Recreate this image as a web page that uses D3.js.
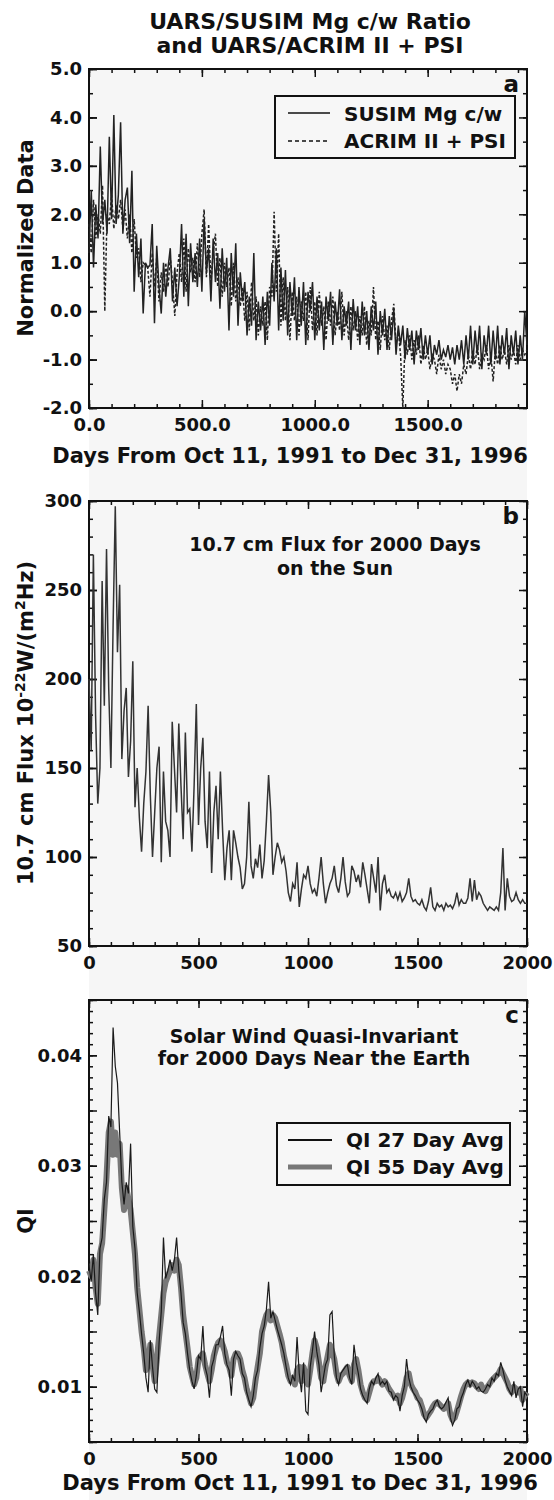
<!DOCTYPE html>
<html>
<head>
<meta charset="utf-8">
<script src="https://cdn.jsdelivr.net/npm/d3@7"></script>
<style>
body { margin: 0; background: #fff; }
text { font-family: "DejaVu Sans", sans-serif; font-weight: bold; fill: #111; }
.tick text { font-size: 18px; }
.tick line { stroke: #111; stroke-width: 1.5; }
</style>
</head>
<body>
<svg width="554" height="1500"></svg>
<script>
var svg = d3.select("svg");

// values, one sample every 10 days
var stepDays = 10;

var susimMg = [
	1.2, 2.5, 0.9, 2.2, 1.5, 3.4, 1.8, 2.3, 1.6, 3.6,
	1.9, 4.05, 1.8, 2.4, 3.9, 1.6, 2.3, 2.55, 1.4, 2.9,
	0.4, 1.6, 0.7, 1.5, -0.05, 1.0, 0.9, 0.95, 1.8, -0.25,
	1.35, 0.5, -0.05, 1.0, 0.3, 0.9, 1.3, 0.2, 0.9, 0.1,
	0.7, 1.8, 0.3, 1.6, 0.1, 1.4, 0.6, 1.2, 0.5, 1.5,
	0.4, 1.9, 0.8, 1.3, 0.2, 1.5, 0.6, 1.2, 0.05, 1.3,
	0.4, 1.1, -0.4, 1.2, 0.3, 1.4, -0.3, 0.8, 0.2, 0.6,
	-0.5, 0.3, -0.3, 1.2, -0.6, 0.2, -0.4, 0.3, -0.7, 0.4,
	-0.3, 1.0, 0.2, 1.3, -0.4, 0.9, -0.2, 0.85, -0.5, 0.6,
	-0.1, 0.7, -0.6, 0.5, -0.3, 0.6, -0.7, 0.4, 0.0, 0.6,
	-0.6, 0.3, -0.4, 0.2, -0.8, 0.3, -0.2, 0.4, -0.7, 0.2,
	-0.3, 0.45, -0.6, 0.1, -0.3, 0.2, -0.8, 0.25, -0.4, 0.1,
	-0.7, 0.2, -0.5, 0.0, -0.8, 0.1, -0.4, 0.2, -0.9, 0.0,
	-0.5, 0.05, -0.8, -0.1, -0.6, 0.05, -0.9, -0.3, -0.7, -0.3,
	-1.0, -0.35, -0.8, -0.4, -1.1, -0.4, -0.8, -0.35, -1.0, -0.5,
	-0.9, -0.5, -1.1, -0.7, -0.9, -0.6, -1.0, -0.8, -0.95, -0.7,
	-1.0, -0.75, -1.1, -0.7, -1.0, -0.6, -1.1, -0.5, -1.0, -0.3,
	-1.1, -0.4, -0.9, -0.3, -1.2, -0.5, -0.9, -0.3, -1.1, -0.4,
	-1.0, -0.3, -1.1, -0.5, -0.9, -0.35, -1.2, -0.5, -0.9, -0.4,
	-1.1, -0.5, -1.0, 0.0, -0.7
];

var acrimPsi = [
	1.8, 1.2, 2.3, 1.5, 2.0, 1.6, 2.6, 0.0, 2.0, 1.8,
	2.4, 1.7, 2.2, 1.9, 2.3, 1.7, 2.1, 1.5, 2.0, 1.2,
	1.9, 1.1, 1.3, 0.6, 1.0, 0.95, 0.9, 0.3, 1.2, 0.5,
	1.1, 0.2, 0.8, 0.4, 1.0, 0.5, 1.1, 0.6, -0.1, 0.8,
	1.2, 0.6, 1.5, 0.4, 1.3, 0.8, 1.1, 0.6, 1.4, 0.7,
	1.6, 2.1, 0.7, 1.8, 0.6, 1.2, 1.6, 0.5, 1.1, 0.3,
	1.0, 0.5, 0.9, 0.1, 1.0, 0.2, 0.7, 0.1, 0.5, -0.2,
	0.4, -0.4, 0.6, -0.2, 0.3, -0.5, 0.1, -0.3, 0.2, -0.6,
	0.5, 0.3, 2.05, 0.4, 1.6, -0.3, 0.7, -0.2, 0.5, -0.6,
	0.4, -0.2, 0.3, -0.5, 0.2, -0.2, 0.4, -0.6, 0.5, -0.4,
	0.2, -0.5, 0.4, -0.3, 0.1, -0.6, 0.2, -0.3, 0.3, -0.5,
	0.0, -0.4, 0.4, -0.5, 0.0, -0.6, 0.1, -0.4, 0.0, -0.6,
	-0.1, -0.5, 0.1, -0.7, -0.2, -0.5, 0.5, -0.6, -0.2, -0.8,
	-0.1, -0.6, -0.3, -0.8, -0.2, 0.15, -0.7, -0.4, -0.9, -2.0,
	-0.6, -0.9, -0.5, -1.0, -0.6, -0.9, -0.5, -1.1, -0.7, -1.0,
	-0.8, -1.2, -0.9, -1.0, -1.3, -0.9, -1.2, -1.0, -1.3, -1.1,
	-1.2, -1.5, -1.3, -1.65, -1.3, -1.5, -1.1, -1.3, -0.9, -1.2,
	-0.8, -1.1, -0.7, -1.2, -0.9, -1.0, -0.7, -1.2, -0.9, -1.45,
	-0.8, -1.1, -0.7, -1.0, -0.8, -1.1, -0.7, -1.0, -0.8, -1.1,
	-0.7, -1.0, -0.8, -0.9, -0.8
];

var flux107 = [
	200, 160, 270, 180, 130, 150, 255, 185, 273, 195,
	150, 230, 297, 215, 253, 155, 182, 195, 145, 165,
	210, 128, 150, 122, 103, 130, 148, 185, 135, 100,
	125, 150, 162, 97, 148, 120, 115, 100, 176, 150,
	125, 175, 140, 110, 170, 125, 127, 103, 140, 186,
	118, 150, 167, 120, 105, 148, 91, 125, 140, 110,
	148, 115, 87, 105, 115, 87, 115, 108, 100, 94,
	82, 85, 100, 131, 95, 88, 99, 94, 107, 88,
	98, 120, 146, 125, 90, 100, 108, 104, 97, 100,
	92, 80, 75, 85, 82, 97, 72, 82, 90, 88,
	95, 85, 80, 82, 78, 88, 100, 85, 74, 80,
	85, 88, 95, 84, 80, 88, 100, 86, 78, 80,
	95, 92, 86, 90, 83, 97, 90, 82, 74, 96,
	88, 80, 100, 70, 85, 90, 80, 82, 78, 77,
	80, 76, 80, 75, 77, 80, 88, 78, 75, 76,
	74, 73, 76, 72, 70, 75, 83, 72, 70, 74,
	72, 73, 70, 74, 72, 73, 71, 74, 80, 73,
	76, 74, 74, 77, 88, 75, 87, 76, 80, 78,
	74, 72, 70, 72, 71, 70, 72, 70, 80, 105,
	70, 88, 78, 75, 76, 80, 76, 74, 76, 74,
	74
];

var qi55 = [
	0.0205, 0.020, 0.0215, 0.019, 0.0175, 0.022, 0.023, 0.026, 0.029, 0.033,
	0.034, 0.031, 0.033, 0.031, 0.032, 0.028, 0.026, 0.028, 0.027, 0.026,
	0.024, 0.022, 0.019, 0.017, 0.015, 0.0135, 0.0115, 0.012, 0.0138, 0.012,
	0.0105, 0.0125, 0.0145, 0.0165, 0.0185, 0.0195, 0.020, 0.0205, 0.021, 0.0205,
	0.0215, 0.021, 0.019, 0.0165, 0.015, 0.0135, 0.0118, 0.011, 0.0102, 0.0108,
	0.0125, 0.0128, 0.013, 0.012, 0.0112, 0.0105, 0.0115, 0.0128, 0.0135, 0.014,
	0.0142, 0.0138, 0.0132, 0.0122, 0.0118, 0.011, 0.0125, 0.013, 0.013, 0.0125,
	0.0115, 0.0108, 0.0098, 0.0092, 0.0085, 0.009, 0.0105, 0.0118, 0.013, 0.015,
	0.0158, 0.0165, 0.0168, 0.016, 0.0165, 0.0162, 0.0155, 0.0148, 0.014, 0.0128,
	0.012, 0.011, 0.0105, 0.0108, 0.0102, 0.0115, 0.0118, 0.0105, 0.0118, 0.011,
	0.0102, 0.0115, 0.013, 0.0142, 0.0135, 0.0122, 0.0108, 0.0105, 0.0118, 0.0128,
	0.0138, 0.0132, 0.0125, 0.0112, 0.0105, 0.011, 0.0112, 0.0115, 0.0118, 0.011,
	0.0105, 0.012, 0.0125, 0.0115, 0.0102, 0.0095, 0.009, 0.0088, 0.0095, 0.0102,
	0.0105, 0.0105, 0.0108, 0.0105, 0.0102, 0.0105, 0.0102, 0.0098, 0.0095, 0.0092,
	0.009, 0.0092, 0.0085, 0.009, 0.0098, 0.0108, 0.0112, 0.0102, 0.0098, 0.0095,
	0.009, 0.0088, 0.0082, 0.0075, 0.0072, 0.0075, 0.0078, 0.0082, 0.0085, 0.0086,
	0.0084, 0.0082, 0.008, 0.0082, 0.0085, 0.0075, 0.007, 0.0072, 0.0078, 0.0085,
	0.0092, 0.0098, 0.0102, 0.0104, 0.0102, 0.0104, 0.0103, 0.010, 0.0098, 0.0102,
	0.0098, 0.0096, 0.010, 0.0103, 0.0106, 0.0108, 0.011, 0.0112, 0.0116, 0.0112,
	0.0108, 0.0104, 0.0098, 0.0095, 0.010, 0.0098, 0.0095, 0.0098, 0.0088, 0.0092,
	0.0095
];

var qi27 = [
	0.021, 0.0195, 0.022, 0.0185, 0.0165, 0.0225, 0.0235, 0.027, 0.0285, 0.0345,
	0.0335, 0.0425, 0.039, 0.0375, 0.033, 0.0285, 0.0265, 0.0285, 0.0275, 0.032,
	0.0245, 0.0225, 0.0185, 0.0168, 0.0148, 0.013, 0.0108, 0.0095, 0.0142, 0.0118,
	0.0098, 0.0095, 0.014, 0.0168, 0.0235, 0.0198, 0.0205, 0.0215, 0.0205, 0.0215,
	0.0235, 0.0205, 0.0185, 0.0158, 0.0148, 0.013, 0.0115, 0.0105, 0.0098, 0.011,
	0.0128, 0.0125, 0.0155, 0.0118, 0.011, 0.009, 0.0118, 0.0125, 0.0138, 0.0138,
	0.0145, 0.0155, 0.013, 0.012, 0.0115, 0.0092, 0.0125, 0.0132, 0.0128, 0.0125,
	0.0112, 0.0108, 0.0095, 0.0088, 0.0082, 0.0092, 0.0108, 0.0115, 0.0135, 0.0148,
	0.0155, 0.017, 0.0195, 0.0162, 0.0168, 0.016, 0.0152, 0.0145, 0.0138, 0.013,
	0.0118, 0.0108, 0.0102, 0.011, 0.0105, 0.0145, 0.0112, 0.0095, 0.0122, 0.0078,
	0.0075, 0.0118, 0.0132, 0.015, 0.0132, 0.012, 0.0095, 0.0108, 0.012, 0.0125,
	0.0165, 0.0168, 0.0128, 0.0108, 0.0102, 0.0112, 0.0115, 0.0118, 0.012, 0.0108,
	0.0102, 0.0138, 0.0122, 0.0112, 0.0098, 0.0092, 0.0088, 0.0085, 0.0098, 0.0105,
	0.0102, 0.0108, 0.0112, 0.0102, 0.0105, 0.0102, 0.0105, 0.0096, 0.0095, 0.0088,
	0.0092, 0.009, 0.0078, 0.0092, 0.010, 0.0125, 0.0108, 0.010, 0.0095, 0.0092,
	0.0088, 0.0085, 0.008, 0.0072, 0.0068, 0.0075, 0.0078, 0.008, 0.0085, 0.0088,
	0.0082, 0.008, 0.0082, 0.0086, 0.009, 0.0072, 0.0065, 0.007, 0.008, 0.0082,
	0.009, 0.0095, 0.0102, 0.0106, 0.010, 0.0105, 0.0102, 0.0098, 0.010, 0.0096,
	0.0095, 0.0098, 0.0102, 0.010, 0.0108, 0.0105, 0.0112, 0.011, 0.0122, 0.0115,
	0.0106, 0.010, 0.0096, 0.0092, 0.0105, 0.009, 0.0098, 0.010, 0.0082, 0.0095,
	0.0092
];

// tick labels
var aXTicks = [0, 500, 1000, 1500];
var aYTicks = [-2, -1, 0, 1, 2, 3, 4, 5];
var bXTicks = [0, 500, 1000, 1500, 2000];
var bYTicks = [50, 100, 150, 200, 250, 300];
var cXTicks = [0, 500, 1000, 1500, 2000];
var cYTicks = [0.01, 0.02, 0.03, 0.04];

var left = 89, right = 527;

//scanned page tint behind the plots
svg.append("rect")
	.attr("x", left).attr("y", 69)
	.attr("width", right - left).attr("height", 1431)
	.attr("fill", "#f6f6f6");

function panel(p) {
	var x = d3.scaleLinear().domain(p.xDomain).range([left, right]);
	var y = d3.scaleLinear().domain(p.yDomain).range([p.bottom, p.top]);
	var g = svg.append("g");

	function ticks(gen, tr, vals, size, fmt, pad) {
		g.append("g").attr("transform", tr)
			.call(gen.tickValues(vals).tickSize(size).tickPadding(pad || 7).tickFormat(fmt || ""))
			.call(function(s) { s.select(".domain").remove(); });
	}

	//minor ticks, all four sides
	ticks(d3.axisBottom(x), "translate(0," + p.bottom + ")", p.xMinor, -4);
	ticks(d3.axisTop(x), "translate(0," + p.top + ")", p.xMinor, -4);
	ticks(d3.axisLeft(y), "translate(" + left + ",0)", p.yMinor, -4);
	ticks(d3.axisRight(y), "translate(" + right + ",0)", p.yMinor, -4);
	//major ticks
	ticks(d3.axisTop(x), "translate(0," + p.top + ")", p.xMajor, -8);
	ticks(d3.axisRight(y), "translate(" + right + ",0)", p.yMid, -8);
	ticks(d3.axisLeft(y), "translate(" + left + ",0)", p.yMid, -8);
	ticks(d3.axisBottom(x), "translate(0," + p.bottom + ")", p.xMajor, -8, p.xFmt, 10);
	ticks(d3.axisLeft(y), "translate(" + left + ",0)", p.yTicks, -8, p.yFmt, 7);

	g.append("rect")
		.attr("x", left).attr("y", p.top)
		.attr("width", right - left).attr("height", p.bottom - p.top)
		.attr("fill", "none").attr("stroke", "#111").attr("stroke-width", 2);

	g.append("text")
		.attr("x", 519).attr("y", p.top + 23)
		.attr("text-anchor", "end")
		.style("font-size", "23px")
		.text(p.letter);

	var line = function(vals) {
		return d3.line()
			.x(function(d, i) { return x(i * stepDays); })
			.y(function(d) { return y(d); })(vals);
	};
	return { x: x, y: y, g: g, line: line };
}

var fixed = function(n) { return function(d) { return d.toFixed(n); }; };

// ---- panel a ----
var pa = panel({
	top: 69, bottom: 408, xDomain: [0, 1940], yDomain: [-2, 5], letter: "a",
	xMajor: aXTicks, xMinor: d3.range(0, 1941, 100), xFmt: fixed(1),
	yTicks: aYTicks, yMid: aYTicks, yMinor: d3.range(-2, 5.01, 0.5), yFmt: fixed(1)
});

pa.g.append("path").attr("d", pa.line(acrimPsi))
	.attr("fill", "none").attr("stroke", "#222").attr("stroke-width", 1.5)
	.attr("stroke-dasharray", "3,2");
pa.g.append("path").attr("d", pa.line(susimMg))
	.attr("fill", "none").attr("stroke", "#222").attr("stroke-width", 1.5);

//legend a
var la = svg.append("g");
la.append("rect").attr("x", 275).attr("y", 96).attr("width", 240).attr("height", 62)
	.attr("fill", "#f7f7f7").attr("stroke", "#111").attr("stroke-width", 2);
la.append("line").attr("x1", 288).attr("x2", 330).attr("y1", 113).attr("y2", 113)
	.attr("stroke", "#111").attr("stroke-width", 1.5);
la.append("line").attr("x1", 288).attr("x2", 330).attr("y1", 141).attr("y2", 141)
	.attr("stroke", "#111").attr("stroke-width", 1.5).attr("stroke-dasharray", "4,3");
la.append("text").attr("x", 344).attr("y", 121).style("font-size", "20px").text("SUSIM Mg c/w");
la.append("text").attr("x", 344).attr("y", 148).style("font-size", "20px").text("ACRIM II + PSI");

svg.append("text").attr("x", 310).attr("y", 29).attr("text-anchor", "middle")
	.style("font-size", "22px").text("UARS/SUSIM Mg c/w Ratio");
svg.append("text").attr("x", 310).attr("y", 53).attr("text-anchor", "middle")
	.style("font-size", "22px").text("and UARS/ACRIM II + PSI");

svg.append("text").attr("x", 290).attr("y", 463).attr("text-anchor", "middle")
	.style("font-size", "21px").text("Days From Oct 11, 1991 to Dec 31, 1996");
svg.append("text").attr("transform", "translate(33,238) rotate(-90)")
	.attr("text-anchor", "middle").style("font-size", "21px").text("Normalized Data");

// ---- panel b ----
var pb = panel({
	top: 501, bottom: 946, xDomain: [0, 2000], yDomain: [50, 300], letter: "b",
	xMajor: bXTicks, xMinor: d3.range(0, 2001, 100), xFmt: fixed(0),
	yTicks: bYTicks, yMid: bYTicks, yMinor: d3.range(50, 301, 10), yFmt: fixed(0)
});

pb.g.append("path").attr("d", pb.line(flux107))
	.attr("fill", "none").attr("stroke", "#333").attr("stroke-width", 1.5);

svg.append("text").attr("x", 335).attr("y", 551).attr("text-anchor", "middle")
	.style("font-size", "19px").text("10.7 cm Flux for 2000 Days");
svg.append("text").attr("x", 335).attr("y", 575).attr("text-anchor", "middle")
	.style("font-size", "19px").text("on the Sun");

var bt = svg.append("text").attr("transform", "translate(33,723) rotate(-90)")
	.attr("text-anchor", "middle").style("font-size", "21px");
bt.append("tspan").text("10.7 cm Flux 10");
bt.append("tspan").attr("dy", -8).style("font-size", "14px").text("-22");
bt.append("tspan").attr("dy", 8).text("W/(m");
bt.append("tspan").attr("dy", -8).style("font-size", "14px").text("2");
bt.append("tspan").attr("dy", 8).text("Hz)");

// ---- panel c ----
var pc = panel({
	top: 1000, bottom: 1442, xDomain: [0, 2000], yDomain: [0.005, 0.045], letter: "c",
	xMajor: cXTicks, xMinor: d3.range(0, 2001, 100), xFmt: fixed(0),
	yTicks: cYTicks, yMid: d3.range(0.005, 0.0451, 0.005), yMinor: d3.range(0.005, 0.0451, 0.001), yFmt: fixed(2)
});

pc.g.append("path").attr("d", pc.line(qi55))
	.attr("fill", "none").attr("stroke", "#787878").attr("stroke-width", 6)
	.attr("stroke-linejoin", "round");
pc.g.append("path").attr("d", pc.line(qi27))
	.attr("fill", "none").attr("stroke", "#1a1a1a").attr("stroke-width", 1.2);

svg.append("text").attr("x", 314).attr("y", 1043).attr("text-anchor", "middle")
	.style("font-size", "19px").text("Solar Wind Quasi-Invariant");
svg.append("text").attr("x", 314).attr("y", 1065).attr("text-anchor", "middle")
	.style("font-size", "19px").text("for 2000 Days Near the Earth");

//legend c
var lc = svg.append("g");
lc.append("rect").attr("x", 277).attr("y", 1123).attr("width", 233).attr("height", 62)
	.attr("fill", "#f7f7f7").attr("stroke", "#111").attr("stroke-width", 2);
lc.append("line").attr("x1", 288).attr("x2", 332).attr("y1", 1140).attr("y2", 1140)
	.attr("stroke", "#111").attr("stroke-width", 1.8);
lc.append("line").attr("x1", 288).attr("x2", 332).attr("y1", 1167).attr("y2", 1167)
	.attr("stroke", "#787878").attr("stroke-width", 5);
lc.append("text").attr("x", 346).attr("y", 1147).style("font-size", "20px").text("QI 27 Day Avg");
lc.append("text").attr("x", 346).attr("y", 1174).style("font-size", "20px").text("QI 55 Day Avg");

svg.append("text").attr("transform", "translate(33,1221) rotate(-90)")
	.attr("text-anchor", "middle").style("font-size", "21px").text("QI");
svg.append("text").attr("x", 300).attr("y", 1490).attr("text-anchor", "middle")
	.style("font-size", "21px").text("Days From Oct 11, 1991 to Dec 31, 1996");
</script>
</body>
</html>
